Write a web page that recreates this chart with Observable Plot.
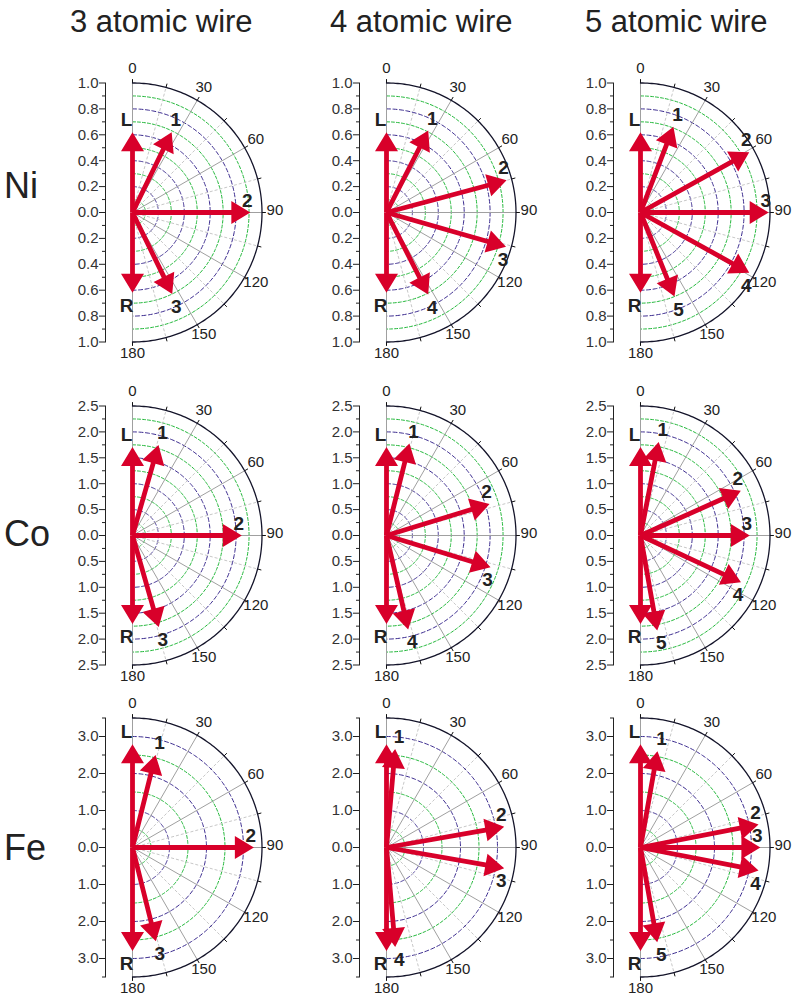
<!DOCTYPE html>
<html><head><meta charset="utf-8">
<script src="https://cdn.jsdelivr.net/npm/d3@7"></script>
<script src="https://cdn.jsdelivr.net/npm/@observablehq/plot@0.6"></script>
<style>
body{margin:0;background:#fff;width:793px;height:994px;overflow:hidden;position:relative;font-family:"Liberation Sans",Arial,sans-serif;}
.title{position:absolute;top:6px;font-size:31px;color:#222;white-space:nowrap;line-height:1;}
.row{position:absolute;font-size:36px;color:#222;line-height:1;}
.panel{position:absolute;}
</style></head><body>
<script>
// ---------- data ----------
const columnTitles = ["3 atomic wire", "4 atomic wire", "5 atomic wire"];
const rowLabels = ["Ni", "Co", "Fe"];
const radialMax = [1.0, 2.5, 3.5];

const majorTicksNi = [-1.0, -0.8, -0.6, -0.4, -0.2, 0, 0.2, 0.4, 0.6, 0.8, 1.0];
const minorTicksNi = [-0.9, -0.7, -0.5, -0.3, -0.1, 0.1, 0.3, 0.5, 0.7, 0.9];
const majorTicksCo = [-2.5, -2.0, -1.5, -1.0, -0.5, 0, 0.5, 1.0, 1.5, 2.0, 2.5];
const minorTicksCo = [-2.25, -1.75, -1.25, -0.75, -0.25, 0.25, 0.75, 1.25, 1.75, 2.25];
const majorTicksFe = [-3.0, -2.0, -1.0, 0, 1.0, 2.0, 3.0];
const minorTicksFe = [-3.5, -2.5, -1.5, -0.5, 0.5, 1.5, 2.5, 3.5];

const ringsGreenNi = [0.1, 0.3, 0.5, 0.7, 0.9];
const ringsPurpleNi = [0.2, 0.4, 0.6, 0.8];
const ringsGreenCo = [0.25, 0.75, 1.25, 1.75, 2.25];
const ringsPurpleCo = [0.5, 1.0, 1.5, 2.0];
const ringsGreenFe = [0.5, 1.5, 2.5];
const ringsPurpleFe = [1.0, 2.0, 3.0];

const angleTicks = [0, 30, 60, 90, 120, 150, 180];
const minorAngles = [15, 45, 75, 105, 135, 165];
const arcTickAngles = [0, 15, 30, 45, 60, 75, 90, 105, 120, 135, 150, 165, 180];

const labels3 = ["L", "1", "2", "3", "R"];
const labels4 = ["L", "1", "2", "3", "4", "R"];
const labels5 = ["L", "1", "2", "3", "4", "5", "R"];

const niAngles3 = [0, 26, 90, 154, 180];
const niLengths3 = [0.62, 0.69, 0.91, 0.70, 0.62];
const niAngles4 = [0, 27, 75, 106, 153, 180];
const niLengths4 = [0.62, 0.71, 0.96, 0.96, 0.71, 0.62];
const niAngles5 = [0, 21, 61, 90, 119, 158, 180];
const niLengths5 = [0.62, 0.71, 0.96, 0.99, 0.96, 0.70, 0.62];

const coAngles3 = [0, 16, 90, 164, 180];
const coLengths3 = [1.71, 1.82, 2.11, 1.84, 1.71];
const coAngles4 = [0, 14, 73, 107, 167, 180];
const coLengths4 = [1.71, 1.83, 2.08, 2.10, 1.86, 1.71];
const coAngles5 = [0, 11, 66, 90, 115, 170, 180];
const coLengths5 = [1.71, 1.84, 2.12, 2.11, 2.14, 1.86, 1.71];

const feAngles3 = [0, 14, 90, 166, 180];
const feLengths3 = [2.79, 2.58, 3.28, 2.61, 2.80];
const feAngles4 = [0, 5, 80, 100, 175, 180];
const feLengths4 = [2.79, 2.67, 3.23, 3.23, 2.70, 2.80];
const feAngles5 = [0, 10, 79, 90, 101, 170, 180];
const feLengths5 = [2.79, 2.64, 3.25, 3.24, 3.25, 2.60, 2.80];

// ---------- layout ----------
const colOrigins = [132, 386, 640];
const rowOrigins = [211.7, 534.7, 847.3];
const titleLefts = [70, 330, 585];
const rowLabelTops = [167.5, 515.5, 829.5];

const RPX = 129.5;           // pixel radius of the outer arc
const W = 250, H = 320;      // panel svg size
const OX = 75, OY = 160;     // origin inside panel svg
const AXIS_GAP = 27;         // distance from axis line to origin

const RED = "#d8002a";
const GREEN = "#22b83a";
const PURPLE = "#3b2b8f";

const rad = a => a * Math.PI / 180;

const arrowShape = {
  draw(ctx, l) {
    const hw = 2.4, hl = 19, hh = 11.5, b = l - hl;
    ctx.moveTo(-hw, 0);
    ctx.lineTo(-hw, -b);
    ctx.lineTo(-hh, -b);
    ctx.lineTo(0, -l);
    ctx.lineTo(hh, -b);
    ctx.lineTo(hw, -b);
    ctx.lineTo(hw, 0);
    ctx.closePath();
  }
};

function makePanel(rmax, major, minor, greens, purples, labels, angles, lengths) {
  const k = RPX / rmax;
  const arrows = labels.map((label, i) => ({label, angle: angles[i], length: lengths[i]}));
  const ringPts = rs => rs.flatMap(r => d3.range(0, 181, 1).map(a => ({r, a})));
  const px = d => d.r * Math.sin(rad(d.a));
  const py = d => d.r * Math.cos(rad(d.a));
  const labelDx = d => (d.angle === 0 || d.angle === 180) ? -6 : (Math.sin(rad(d.angle)) < 0.6 ? 4 : -3);
  const labelDy = d => d.angle <= 90 ? -12 : 13;
  const angleR = 1.1;
  return Plot.plot({
    width: W, height: H,
    marginLeft: OX - AXIS_GAP, marginRight: 0,
    marginTop: OY - RPX, marginBottom: H - OY - RPX,
    x: {domain: [-AXIS_GAP / k, (W - OX) / k], axis: null},
    y: {domain: [-rmax, rmax], axis: null},
    length: {type: "linear", domain: [0, rmax], range: [0, RPX]},
    style: {overflow: "visible", fontFamily: "'Liberation Sans', Arial, sans-serif", fontSize: "15px", background: "transparent"},
    marks: [
      Plot.line(ringPts(greens), {x: px, y: py, z: "r", stroke: GREEN, strokeWidth: 1, strokeDasharray: "3,2"}),
      Plot.line(ringPts(purples), {x: px, y: py, z: "r", stroke: PURPLE, strokeWidth: 1, strokeDasharray: "4,2.5"}),
      Plot.link(minorAngles, {x1: 0, y1: 0, x2: a => rmax * Math.sin(rad(a)), y2: a => rmax * Math.cos(rad(a)), stroke: "#c8c8c8", strokeWidth: 1, strokeDasharray: "3,2"}),
      Plot.link(angleTicks, {x1: 0, y1: 0, x2: a => rmax * Math.sin(rad(a)), y2: a => rmax * Math.cos(rad(a)), stroke: "#a0a0a0", strokeWidth: 1}),
      Plot.link(arcTickAngles, {x1: a => rmax * Math.sin(rad(a)), y1: a => rmax * Math.cos(rad(a)), x2: a => rmax * 1.03 * Math.sin(rad(a)), y2: a => rmax * 1.03 * Math.cos(rad(a)), stroke: "#111", strokeWidth: 1}),
      Plot.line(ringPts([rmax]), {x: px, y: py, stroke: "#14142a", strokeWidth: 1.3}),
      Plot.frame({anchor: "left", stroke: "#222", strokeWidth: 1}),
      Plot.axisY({ticks: major, tickFormat: d => Math.abs(d).toFixed(1), tickSize: 6, tickPadding: 1, fontSize: 15, label: null, stroke: "#222", fill: "#333"}),
      Plot.axisY({ticks: minor, tickFormat: null, text: null, tickSize: 3, label: null, stroke: "#222"}),
      Plot.vector(arrows, {x: 0, y: 0, length: "length", rotate: "angle", anchor: "start", shape: arrowShape, fill: RED, stroke: "none"}),
      Plot.text(arrows, {
        x: d => d.length * Math.sin(rad(d.angle)) + labelDx(d) / k,
        y: d => d.length * Math.cos(rad(d.angle)) - labelDy(d) / k,
        text: "label", fontSize: 19, fontWeight: "bold", fill: "#222"
      }),
      Plot.text(angleTicks, {x: a => rmax * angleR * Math.sin(rad(a)), y: a => rmax * angleR * Math.cos(rad(a)), dy: -2, text: a => String(a), fontSize: 15, fill: "#222"})
    ]
  });
}

const panelDefs = [
  [[majorTicksNi, minorTicksNi, ringsGreenNi, ringsPurpleNi],
   [[labels3, niAngles3, niLengths3], [labels4, niAngles4, niLengths4], [labels5, niAngles5, niLengths5]]],
  [[majorTicksCo, minorTicksCo, ringsGreenCo, ringsPurpleCo],
   [[labels3, coAngles3, coLengths3], [labels4, coAngles4, coLengths4], [labels5, coAngles5, coLengths5]]],
  [[majorTicksFe, minorTicksFe, ringsGreenFe, ringsPurpleFe],
   [[labels3, feAngles3, feLengths3], [labels4, feAngles4, feLengths4], [labels5, feAngles5, feLengths5]]]
];

columnTitles.forEach((t, c) => {
  const d = document.createElement("div");
  d.className = "title"; d.textContent = t; d.style.left = titleLefts[c] + "px";
  document.body.appendChild(d);
});
rowLabels.forEach((t, r) => {
  const d = document.createElement("div");
  d.className = "row"; d.textContent = t; d.style.left = "4px"; d.style.top = rowLabelTops[r] + "px";
  document.body.appendChild(d);
});

panelDefs.forEach(([[maj, min, gr, pu], cols], r) => {
  cols.forEach(([labs, angs, lens], c) => {
    const svg = makePanel(radialMax[r], maj, min, gr, pu, labs, angs, lens);
    svg.classList.add("panel");
    svg.style.position = "absolute";
    svg.style.left = (colOrigins[c] - OX) + "px";
    svg.style.top = (rowOrigins[r] - OY) + "px";
    document.body.appendChild(svg);
  });
});
</script></body></html>
